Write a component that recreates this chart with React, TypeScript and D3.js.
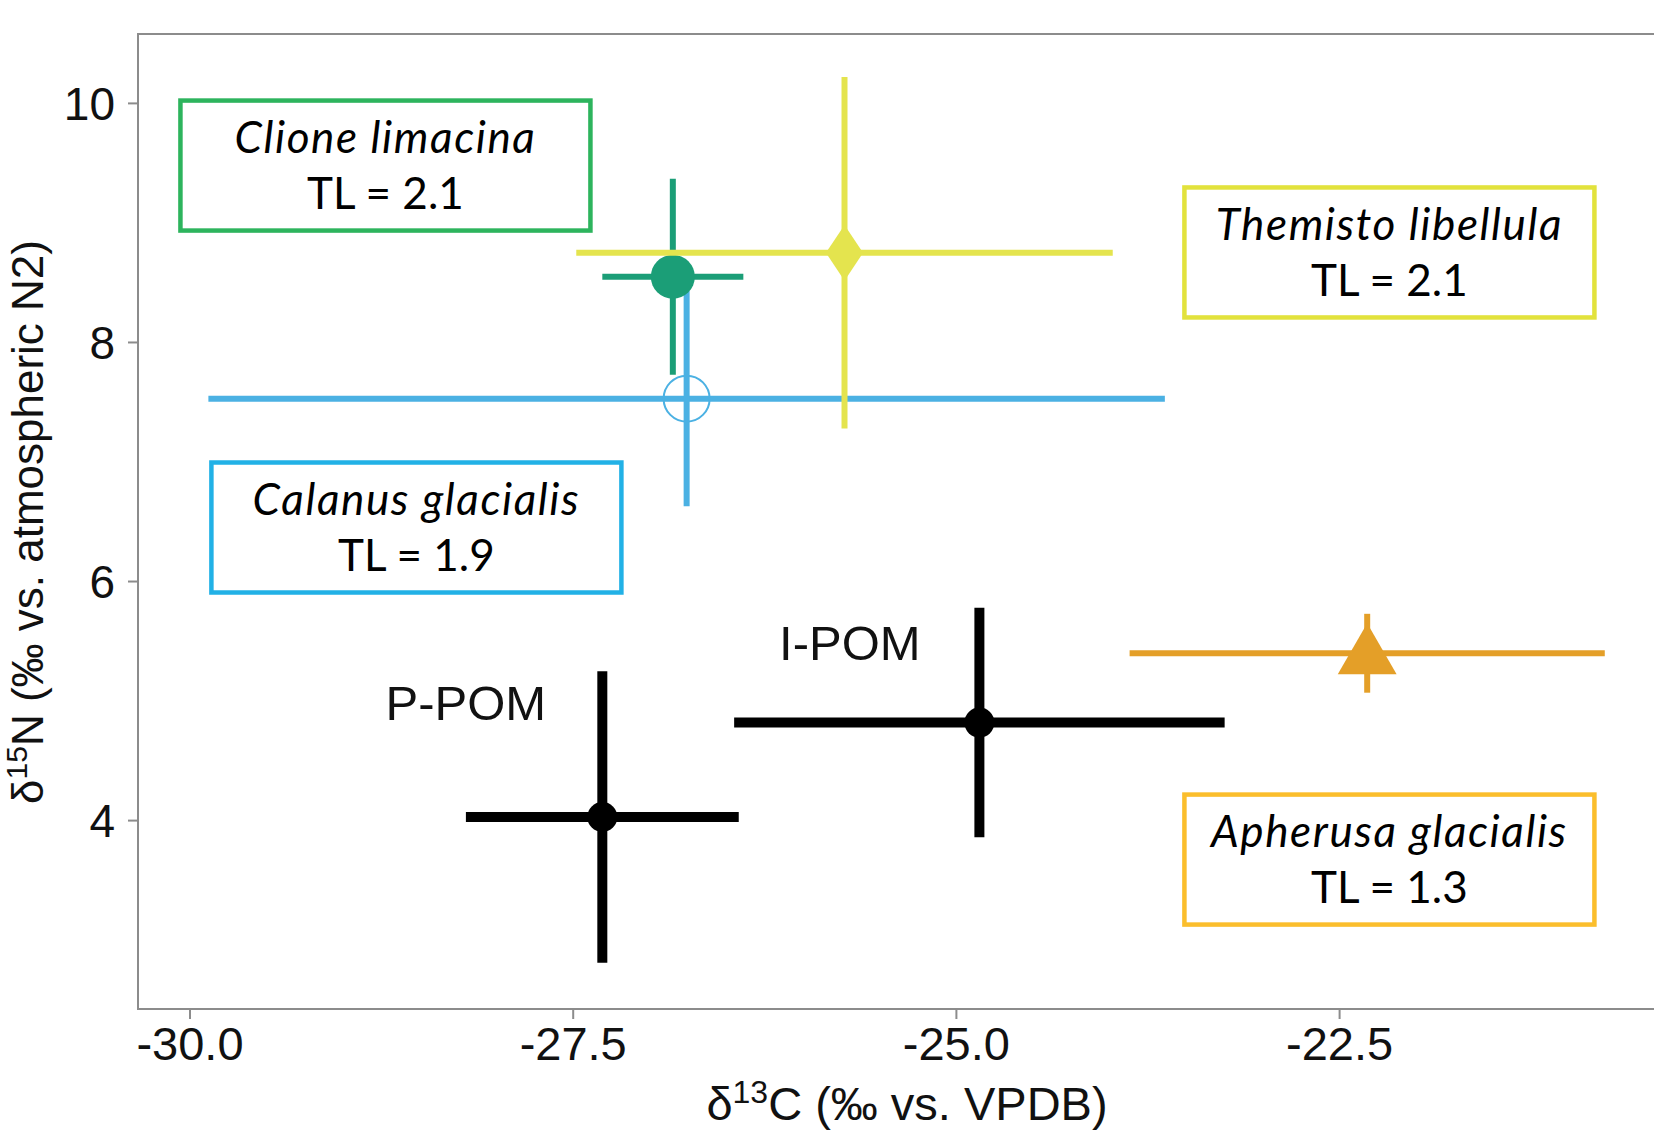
import React from 'react'
import * as d3 from 'd3'

// species / sources
const groups = ['Apherusa glacialis', 'Calanus glacialis', 'Clione limacina', 'Themisto libellula', 'P-POM', 'I-POM']
const d13C = [-22.32, -26.76, -26.85, -25.73, -27.31, -24.85]
const d13Csd = [1.55, 3.12, 0.46, 1.75, 0.89, 1.6]
const d15N = [5.4, 7.53, 8.55, 8.75, 4.03, 4.82]
const d15Nsd = [0.33, 0.9, 0.82, 1.47, 1.22, 0.96]
const trophicLevel = ['1.3', '1.9', '2.1', '2.1', '', '']

const xTicks = [-30, -27.5, -25, -22.5]
const yTicks = [4, 6, 8, 10]

const W = 1654
const H = 1130

const styles: Record<string, { color: string, box: string, shape: string, lw: number, r: number }> = {
  'Apherusa glacialis': { color: '#e49f28', box: '#fbbe2c', shape: 'triangle', lw: 6, r: 24 },
  'Calanus glacialis': { color: '#4bb1e3', box: '#22b1e6', shape: 'open', lw: 6, r: 23 },
  'Clione limacina': { color: '#1b9e77', box: '#2db45d', shape: 'circle', lw: 6, r: 22 },
  'Themisto libellula': { color: '#e4e44e', box: '#e2e23c', shape: 'diamond', lw: 6, r: 21 },
  'P-POM': { color: '#000000', box: '', shape: 'circle', lw: 10, r: 15 },
  'I-POM': { color: '#000000', box: '', shape: 'circle', lw: 10, r: 15 }
}

// where the annotation boxes sit (data units, box centre)
const boxAt: Record<string, [number, number]> = {
  'Apherusa glacialis': [-22.175, 3.674],
  'Calanus glacialis': [-28.523, 6.452],
  'Clione limacina': [-28.725, 9.48],
  'Themisto libellula': [-22.175, 8.753]
}
const labelAt: Record<string, [number, number]> = {
  'P-POM': [-28.2, 4.99],
  'I-POM': [-25.695, 5.49]
}

const x = d3.scaleLinear().domain([-30, -22.5]).range([190, 1339.6])
const y = d3.scaleLinear().domain([4, 10]).range([820.6, 103.4])

const panel = { left: 138, top: 34, right: 1700, bottom: 1009 }
const axisFont = '"Liberation Sans", Arial, sans-serif'
const boxFont = 'Lato, "Open Sans", sans-serif'

function Marker ({ g, cx, cy }: { g: string, cx: number, cy: number }) {
  const s = styles[g]
  if (s.shape === 'circle') return <circle cx={cx} cy={cy} r={s.r} fill={s.color} />
  if (s.shape === 'open') return <circle cx={cx} cy={cy} r={s.r} fill="none" stroke={s.color} strokeWidth={2} />
  const sym = s.shape === 'triangle' ? d3.symbolTriangle : d3.symbolDiamond
  const size = s.shape === 'triangle' ? 1500 : 900
  let path = d3.symbol().type(sym).size(size)() as string
  return <path d={path} transform={`translate(${cx},${cy + (s.shape === 'triangle' ? 4 : 0)})` + (s.shape === 'diamond' ? ' scale(1.15,1)' : '')} fill={s.color} />
}

export default function App () {
  return (
    <svg width={W} height={H} style={{ position: 'absolute', left: 0, top: 0, background: '#fff' }}>
      <rect x={panel.left} y={panel.top} width={panel.right - panel.left} height={panel.bottom - panel.top}
        fill="#fff" stroke="#8c8c8c" strokeWidth={2} />

      {/* axes */}
      {xTicks.map(t => (
        <g key={t}>
          <line x1={x(t)} x2={x(t)} y1={panel.bottom} y2={panel.bottom + 10} stroke="#8c8c8c" strokeWidth={2} />
          <text x={x(t)} y={1060} textAnchor="middle" fontFamily={axisFont} fontSize={47} fill="#111">
            {d3.format('.1f')(t).replace('−', '-')}
          </text>
        </g>
      ))}
      {yTicks.map(t => (
        <g key={t}>
          <line x1={panel.left - 10} x2={panel.left} y1={y(t)} y2={y(t)} stroke="#8c8c8c" strokeWidth={2} />
          <text x={115} y={y(t)} dy="0.36em" textAnchor="end" fontFamily={axisFont} fontSize={46} fill="#111">{t}</text>
        </g>
      ))}
      <text x={907} y={1120} textAnchor="middle" fontFamily={axisFont} fontSize={47} fill="#111">
        δ<tspan fontSize={32} dy={-17}>13</tspan><tspan dy={17}>C (‰ vs. VPDB)</tspan>
      </text>
      <text transform="translate(43,522) rotate(-90)" textAnchor="middle" fontFamily={axisFont} fontSize={44} fill="#111">
        δ<tspan fontSize={30} dy={-16}>15</tspan><tspan dy={16}>N (‰ vs. atmospheric N2)</tspan>
      </text>

      {/* error bars + points */}
      {groups.map((g, i) => {
        const s = styles[g]
        const cx = x(d13C[i])
        const cy = y(d15N[i])
        return (
          <g key={g}>
            <line x1={x(d13C[i] - d13Csd[i])} x2={x(d13C[i] + d13Csd[i])} y1={cy} y2={cy} stroke={s.color} strokeWidth={s.lw} />
            <line x1={cx} x2={cx} y1={y(d15N[i] - d15Nsd[i])} y2={y(d15N[i] + d15Nsd[i])} stroke={s.color} strokeWidth={s.lw} />
            <Marker g={g} cx={cx} cy={cy} />
          </g>
        )
      })}

      {/* species boxes */}
      {groups.map((g, i) => {
        if (!boxAt[g]) return null
        const [bx, by] = boxAt[g]
        const cx = x(bx)
        const cy = y(by)
        return (
          <g key={'box' + g}>
            <rect x={cx - 205} y={cy - 65} width={410} height={130} fill="#fff" stroke={styles[g].box} strokeWidth={4.5} />
            <text x={cx} y={cy - 28} dy="0.35em" textAnchor="middle" fontFamily={boxFont} fontStyle="italic" fontSize={44} letterSpacing={1.6} fill="#000">{g}</text>
            <text x={cx} y={cy + 28} dy="0.35em" textAnchor="middle" fontFamily={boxFont} fontSize={44} fill="#000">TL = {trophicLevel[i]}</text>
          </g>
        )
      })}

      {Object.keys(labelAt).map(g => (
        <text key={'lab' + g} x={x(labelAt[g][0])} y={y(labelAt[g][1])} dy="0.36em" textAnchor="middle"
          fontFamily={axisFont} fontSize={49} fill="#111">{g}</text>
      ))}
    </svg>
  )
}
